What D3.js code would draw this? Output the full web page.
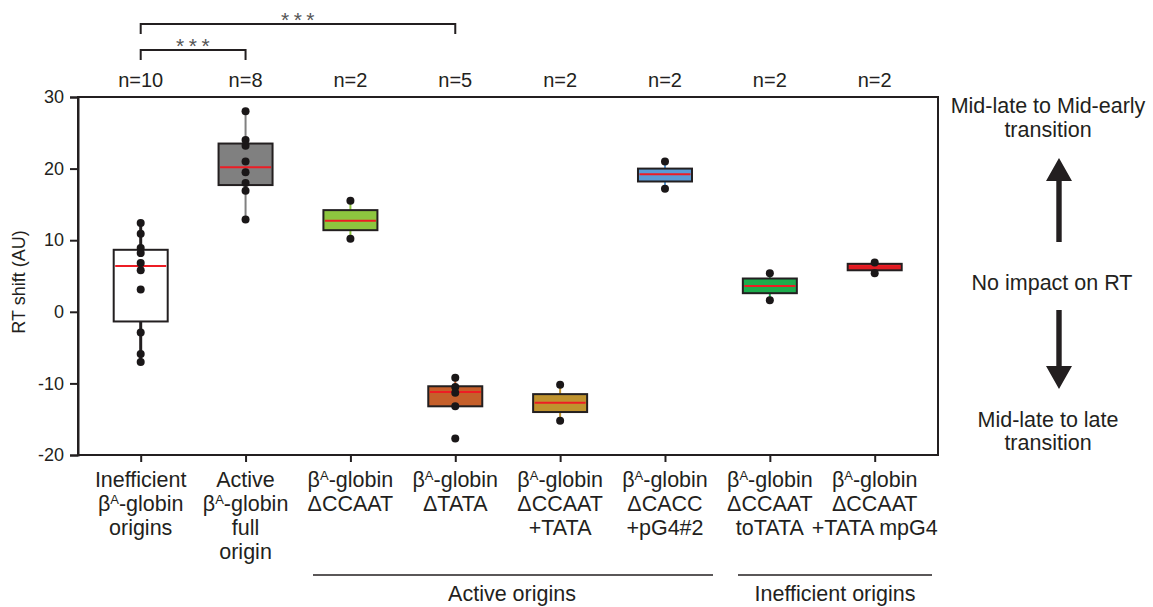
<!DOCTYPE html>
<meta charset="utf-8">
<head>
    <script type="text/javascript" src="https://cdn.jsdelivr.net/npm/d3@7"></script>
    <style>
        body { margin: 0; background: #fff; }
        text { font-family: "Liberation Sans", Arial, sans-serif; fill: #231f20; }
    </style>
</head>
<body>
<div id="chart"></div>
<script>

    // categories, one array of label lines each ("^A" = superscript)
    var categories = ["ineff", "active", "dCCAAT", "dTATA", "dCCAAT_TATA", "dCACC_pG4", "dCCAAT_toTATA", "dCCAAT_TATA_mpG4"];
    var catLabels = [
        ["Inefficient", "β^A-globin", "origins"],
        ["Active", "β^A-globin", "full", "origin"],
        ["β^A-globin", "ΔCCAAT"],
        ["β^A-globin", "ΔTATA"],
        ["β^A-globin", "ΔCCAAT", "+TATA"],
        ["β^A-globin", "ΔCACC", "+pG4#2"],
        ["β^A-globin", "ΔCCAAT", "toTATA"],
        ["β^A-globin", "ΔCCAAT", "+TATA mpG4"]
    ];
    var nCounts = [10, 8, 2, 5, 2, 2, 2, 2];

    // box statistics
    var q1 = [-1.35, 17.7, 11.4, -13.2, -14.0, 18.2, 2.6, 5.8];
    var medians = [6.4, 20.2, 12.7, -11.2, -12.7, 19.2, 3.6, 6.2];
    var q3 = [8.66, 23.5, 14.2, -10.4, -11.5, 20.0, 4.65, 6.7];
    var whiskerLo = [-7.0, 12.9, 10.2, -13.2, -15.2, 17.2, 1.6, 5.4];
    var whiskerHi = [12.4, 28.0, 15.5, -9.2, -10.2, 21.0, 5.4, 6.9];

    // individual points
    var points = [
        [12.4, 10.9, 8.9, 8.2, 6.8, 5.8, 3.1, -2.9, -5.9, -7.0],
        [28.0, 24.0, 23.2, 21.0, 19.5, 18.0, 16.9, 12.9],
        [15.5, 10.2],
        [-9.2, -10.5, -11.3, -13.2, -17.7],
        [-10.2, -15.2],
        [21.0, 17.2],
        [5.4, 1.6],
        [6.9, 5.4]
    ];

    var boxColors = ["#ffffff", "#808080", "#8dc63f", "#c55f2b", "#bf922e", "#5b9bd5", "#1cac4c", "#ed1c24"];
    var whiskerColors = ["#231f20", "#808080", "#8dc63f", "#c55f2b", "#bf922e", "#5b9bd5", "#1cac4c", "#ed1c24"];

    var yTicks = [-20, -10, 0, 10, 20, 30];

    // significance brackets: [from index, to index, label]
    var brackets = [[0, 1, "***"], [0, 3, "***"]];
    var groups = [
        {name: "Active origins", from: 313, to: 713, cx: 512},
        {name: "Inefficient origins", from: 738, to: 932, cx: 835}
    ];

    var w = 1153, h = 607;
    var plotLeft = 78, plotRight = 938, plotTop = 97, plotBottom = 455;

    var svg = d3.select("#chart").append("svg")
        .attr("width", w)
        .attr("height", h);

    var x = d3.scalePoint().domain(categories).range([140.7, 874.7]);
    var y = d3.scaleLinear().domain([-20, 30]).range([plotBottom, plotTop]);
    var boxW = 54;

    // frame
    svg.append("rect")
        .attr("x", plotLeft).attr("y", plotTop)
        .attr("width", plotRight - plotLeft).attr("height", plotBottom - plotTop)
        .attr("fill", "none").attr("stroke", "#231f20").attr("stroke-width", 2);

    // y axis
    var yAxis = svg.append("g")
        .attr("transform", "translate(" + plotLeft + ",0)")
        .call(d3.axisLeft(y).tickValues(yTicks).tickSize(8).tickPadding(6)
            .tickFormat(function (d) { return String(d); }));
    yAxis.select(".domain").attr("stroke", "#231f20").attr("stroke-width", 2);
    yAxis.selectAll(".tick line").attr("stroke", "#231f20").attr("stroke-width", 2);
    yAxis.selectAll(".tick text").attr("fill", "#231f20").style("font-size", "18px")
        .attr("font-family", null);

    // x ticks
    var xAxis = svg.append("g")
        .attr("transform", "translate(0," + plotBottom + ")")
        .call(d3.axisBottom(x).tickSize(7).tickFormat(""));
    xAxis.select(".domain").remove();
    xAxis.selectAll(".tick line").attr("stroke", "#231f20").attr("stroke-width", 2);

    svg.append("text")
        .attr("transform", "translate(25,282) rotate(-90)")
        .attr("text-anchor", "middle")
        .style("font-size", "18px")
        .text("RT shift (AU)");

    // boxes
    categories.forEach(function (c, i) {
        var cx = x(c);
        var g = svg.append("g");
        g.append("line")
            .attr("x1", cx).attr("x2", cx)
            .attr("y1", y(whiskerHi[i])).attr("y2", y(whiskerLo[i]))
            .attr("stroke", whiskerColors[i])
            .attr("stroke-width", i == 0 ? 3 : 2);
        g.append("rect")
            .attr("x", cx - boxW / 2).attr("width", boxW)
            .attr("y", y(q3[i])).attr("height", y(q1[i]) - y(q3[i]))
            .attr("fill", boxColors[i])
            .attr("stroke", "#231f20").attr("stroke-width", 2);
        g.append("line")
            .attr("x1", cx - boxW / 2 + 1.5).attr("x2", cx + boxW / 2 - 1.5)
            .attr("y1", y(medians[i])).attr("y2", y(medians[i]))
            .attr("stroke", i == 7 ? "#e01b22" : "#ed1c24")
            .attr("stroke-width", i == 7 ? 3 : 2);
        g.selectAll("circle").data(points[i]).enter().append("circle")
            .attr("cx", cx).attr("cy", function (d) { return y(d); })
            .attr("r", 4)
            .attr("fill", "#1a1718");
    });

    // n= labels
    svg.append("g").selectAll("text").data(categories).enter().append("text")
        .attr("x", function (d) { return x(d); })
        .attr("y", 87)
        .attr("text-anchor", "middle")
        .style("font-size", "20px")
        .text(function (d, i) { return "n=" + nCounts[i]; });

    // category labels
    categories.forEach(function (c, i) {
        var t = svg.append("text")
            .attr("x", x(c)).attr("y", 487)
            .attr("text-anchor", "middle")
            .style("font-size", "21.5px");
        catLabels[i].forEach(function (line, k) {
            var parts = line.split("^A");
            var first = t.append("tspan").attr("x", x(c)).attr("dy", k == 0 ? 0 : 24);
            if (parts.length == 1) {
                first.text(line);
            } else {
                first.text(parts[0]);
                t.append("tspan").attr("dy", -7).style("font-size", "13px").text("A");
                t.append("tspan").attr("dy", 7).text(parts[1]);
            }
        });
    });

    // group lines
    groups.forEach(function (gp) {
        svg.append("line")
            .attr("x1", gp.from).attr("x2", gp.to)
            .attr("y1", 575).attr("y2", 575)
            .attr("stroke", "#231f20").attr("stroke-width", 1.5);
        svg.append("text")
            .attr("x", gp.cx).attr("y", 601)
            .attr("text-anchor", "middle")
            .style("font-size", "21.5px")
            .text(gp.name);
    });

    // significance brackets
    var bracketY = [50, 24];
    brackets.forEach(function (b, k) {
        var x1 = x(categories[b[0]]), x2 = x(categories[b[1]]);
        var by = bracketY[k];
        svg.append("path")
            .attr("d", "M" + x1 + "," + (by + 10) + "V" + by + "H" + x2 + "V" + (by + 10))
            .attr("fill", "none").attr("stroke", "#231f20").attr("stroke-width", 2);
        svg.append("text")
            .attr("x", (x1 + x2) / 2 + 2).attr("y", by + 3)
            .attr("text-anchor", "middle")
            .style("font-size", "21px")
            .style("letter-spacing", "4.5px")
            .style("fill", "#555")
            .text(b[2]);
    });

    // right side annotation
    var ax = 1059;
    var note = svg.append("g").style("font-size", "21.5px");
    note.append("text").attr("x", 1048).attr("y", 113).attr("text-anchor", "middle").text("Mid-late to Mid-early");
    note.append("text").attr("x", 1048).attr("y", 137).attr("text-anchor", "middle").text("transition");
    note.append("text").attr("x", 1052).attr("y", 290).attr("text-anchor", "middle").text("No impact on RT");
    note.append("text").attr("x", 1048).attr("y", 427).attr("text-anchor", "middle").text("Mid-late to late");
    note.append("text").attr("x", 1048).attr("y", 450).attr("text-anchor", "middle").text("transition");

    svg.append("path")
        .attr("d", "M" + ax + ",158 L" + (ax + 13) + ",181 H" + (ax + 2.7) + " V242 H" + (ax - 2.7) + " V181 H" + (ax - 13) + " Z")
        .attr("fill", "#231f20");
    svg.append("path")
        .attr("d", "M" + ax + ",389 L" + (ax + 13) + ",366 H" + (ax + 2.7) + " V310 H" + (ax - 2.7) + " V366 H" + (ax - 13) + " Z")
        .attr("fill", "#231f20");

</script>
</body>
